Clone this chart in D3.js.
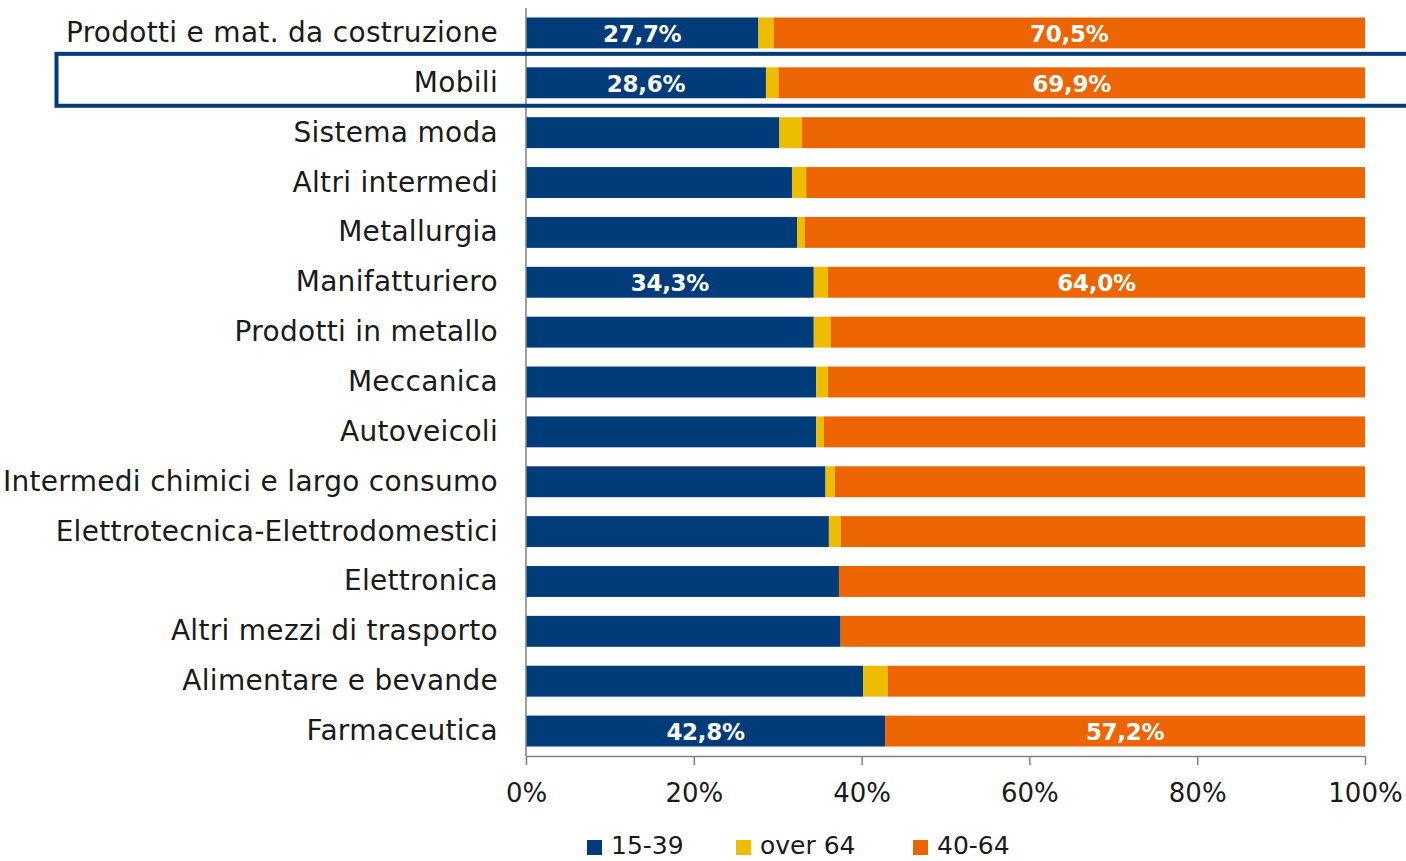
<!DOCTYPE html>
<html>
<head>
<meta charset="utf-8">
<script src="https://cdn.jsdelivr.net/npm/d3@7"></script>
<style>
  html, body { margin: 0; padding: 0; background: #ffffff; }
  svg { display: block; }
  text { font-family: "Century Gothic", "DejaVu Sans", sans-serif; }
</style>
</head>
<body>
<svg id="chart" width="1406" height="861"></svg>
<script>
const categories = [
  "Prodotti e mat. da costruzione",
  "Mobili",
  "Sistema moda",
  "Altri intermedi",
  "Metallurgia",
  "Manifatturiero",
  "Prodotti in metallo",
  "Meccanica",
  "Autoveicoli",
  "Intermedi chimici e largo consumo",
  "Elettrotecnica-Elettrodomestici",
  "Elettronica",
  "Altri mezzi di trasporto",
  "Alimentare e bevande",
  "Farmaceutica"
];
const age15to39 = [27.7, 28.6, 30.2, 31.7, 32.3, 34.3, 34.3, 34.6, 34.6, 35.7, 36.1, 37.3, 37.5, 40.2, 42.8];
const over64    = [1.8, 1.5, 2.7, 1.7, 0.9, 1.7, 2.0, 1.4, 0.9, 1.1, 1.4, 0.0, 0.0, 2.9, 0.0];
const age40to64 = [70.5, 69.9, 67.1, 66.6, 66.8, 64.0, 63.7, 64.0, 64.5, 63.2, 62.5, 62.7, 62.5, 56.9, 57.2];
const seriesNames = ["15-39", "over 64", "40-64"];
const seriesColors = ["#003b7a", "#ecbd00", "#ec6500"];
const labelledCategories = ["Prodotti e mat. da costruzione", "Mobili", "Manifatturiero", "Farmaceutica"];
const highlighted = "Mobili";
const xTicks = [0, 20, 40, 60, 80, 100];

const svg = d3.select("#chart");
const x = d3.scaleLinear().domain([0, 100]).range([526, 1365]);
const y = d3.scaleBand().domain(categories).range([8, 756]).paddingInner(0.38).paddingOuter(0.19);

const rows = categories.map((c, i) => ({cat: c, "15-39": age15to39[i], "over 64": over64[i], "40-64": age40to64[i]}));
const stacked = d3.stack().keys(seriesNames)(rows);

// bars
svg.append("g").selectAll("g").data(stacked).join("g")
  .attr("fill", (d, i) => seriesColors[i])
  .selectAll("rect").data(d => d).join("rect")
  .attr("x", d => x(d[0]))
  .attr("y", d => y(d.data.cat))
  .attr("width", d => Math.max(0, x(d[1]) - x(d[0])))
  .attr("height", y.bandwidth());

// data labels
const fmt = v => v.toFixed(1).replace(".", ",") + "%";
const lblSeries = [0, 2];
lblSeries.forEach(si => {
  svg.append("g").selectAll("text")
    .data(stacked[si].filter(d => labelledCategories.includes(d.data.cat)))
    .join("text")
    .attr("x", d => (x(d[0]) + x(d[1])) / 2)
    .attr("y", d => y(d.data.cat) + y.bandwidth() / 2 + 9)
    .attr("text-anchor", "middle")
    .attr("fill", "#ffffff")
    .attr("font-weight", "bold")
    .attr("font-size", "23px")
    .attr("letter-spacing", "-0.3px")
    .text(d => fmt(d[1] - d[0]));
});

// y axis
const yAxis = svg.append("g").attr("transform", "translate(526,0)")
  .call(d3.axisLeft(y).tickSize(0).tickPadding(28));
yAxis.select(".domain").attr("stroke", "#808080").attr("stroke-width", 1.5)
  .attr("d", "M0,8V756");
yAxis.selectAll("text").attr("font-size", "28px").attr("fill", "#1a1a1a")
  .attr("letter-spacing", "0.3px")
  .attr("font-family", "'DejaVu Sans', sans-serif");

// x axis
const xAxis = svg.append("g").attr("transform", "translate(0,756)")
  .call(d3.axisBottom(x).tickValues(xTicks).tickFormat(d => d + "%").tickSize(9).tickSizeOuter(0).tickPadding(19));
xAxis.select(".domain").attr("stroke", "#808080").attr("stroke-width", 1.5);
xAxis.selectAll(".tick line").attr("stroke", "#808080").attr("stroke-width", 1.5);
xAxis.selectAll("text").attr("font-size", "26px").attr("fill", "#1a1a1a")
  .attr("font-family", "'DejaVu Sans Condensed', 'DejaVu Sans', sans-serif");

// highlight box
const hy = y(highlighted);
svg.append("rect")
  .attr("x", 56.5).attr("y", hy - 13.5)
  .attr("width", 1360).attr("height", y.bandwidth() + 21)
  .attr("fill", "none").attr("stroke", "#003b7a").attr("stroke-width", 4);

// legend
const legendX = [587, 736, 913];
const lg = svg.append("g");
seriesNames.forEach((n, i) => {
  lg.append("rect").attr("x", legendX[i]).attr("y", 840).attr("width", 15).attr("height", 15).attr("fill", seriesColors[i]);
  lg.append("text").attr("x", legendX[i] + 24).attr("y", 854)
    .attr("font-size", "25px").attr("fill", "#1a1a1a")
    .attr("font-family", "'DejaVu Sans Condensed', 'DejaVu Sans', sans-serif")
    .text(n);
});
</script>
</body>
</html>
